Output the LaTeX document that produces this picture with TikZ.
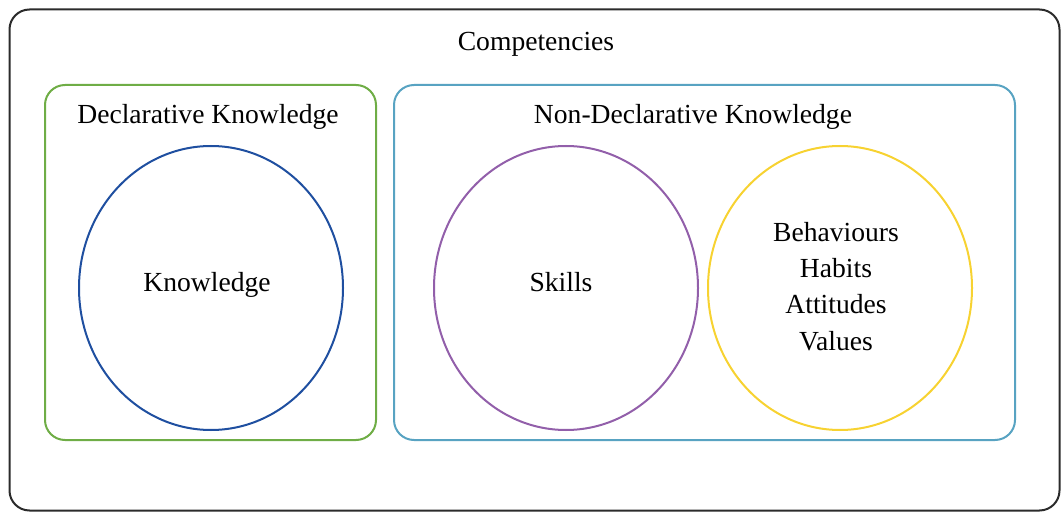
\documentclass[tikz,border=0pt]{standalone}
\usepackage{fontspec}
\setmainfont{Liberation Serif}
\usetikzlibrary{shapes.geometric}
\definecolor{outerc}{HTML}{2B2B2B}
\definecolor{greenc}{HTML}{6FAD46}
\definecolor{cyanc}{HTML}{58A3C2}
\definecolor{darkbluec}{HTML}{1F4FA0}
\definecolor{purplec}{HTML}{925FAA}
\definecolor{yellowc}{HTML}{F7D231}
\tikzset{
  box/.style={draw, line width=2pt, rounded corners=20pt, inner sep=0pt},
  oval/.style={draw, ellipse, line width=2pt, inner sep=0pt, minimum width=264pt, minimum height=284pt},
  lbl/.style={font=\fontsize{27.6}{33}\selectfont, inner sep=0pt, anchor=base}
}
\begin{document}
\begin{tikzpicture}[x=1pt,y=-1pt]
\useasboundingbox (0,0) rectangle (1061,513);
\node[box, draw=outerc, minimum width=1050pt, minimum height=501pt] (outer) at (534.5,260) {};
\node[box, draw=greenc, minimum width=331pt, minimum height=355pt] (decl) at (210.5,262.5) {};
\node[box, draw=cyanc, minimum width=621pt, minimum height=355pt] (nondecl) at (704.5,262.5) {};
\node[oval, draw=darkbluec] (knowov) at (211,288) {};
\node[oval, draw=purplec] (skillov) at (566,288) {};
\node[oval, draw=yellowc] (behov) at (840,288) {};
\node[lbl] (comp) at (536,51) {Competencies};
\node[lbl] (decllbl) at (208,124) {Declarative Knowledge};
\node[lbl] (nondecllbl) at (693,124) {Non-Declarative Knowledge};
\node[lbl] (know) at (207,292) {Knowledge};
\node[lbl] (skills) at (561,292) {Skills};
\node[lbl] (beh) at (836,242) {Behaviours};
\node[lbl] (hab) at (836,278) {Habits};
\node[lbl] (att) at (836,314) {Attitudes};
\node[lbl] (val) at (836,350) {Values};
\end{tikzpicture}
\end{document}
